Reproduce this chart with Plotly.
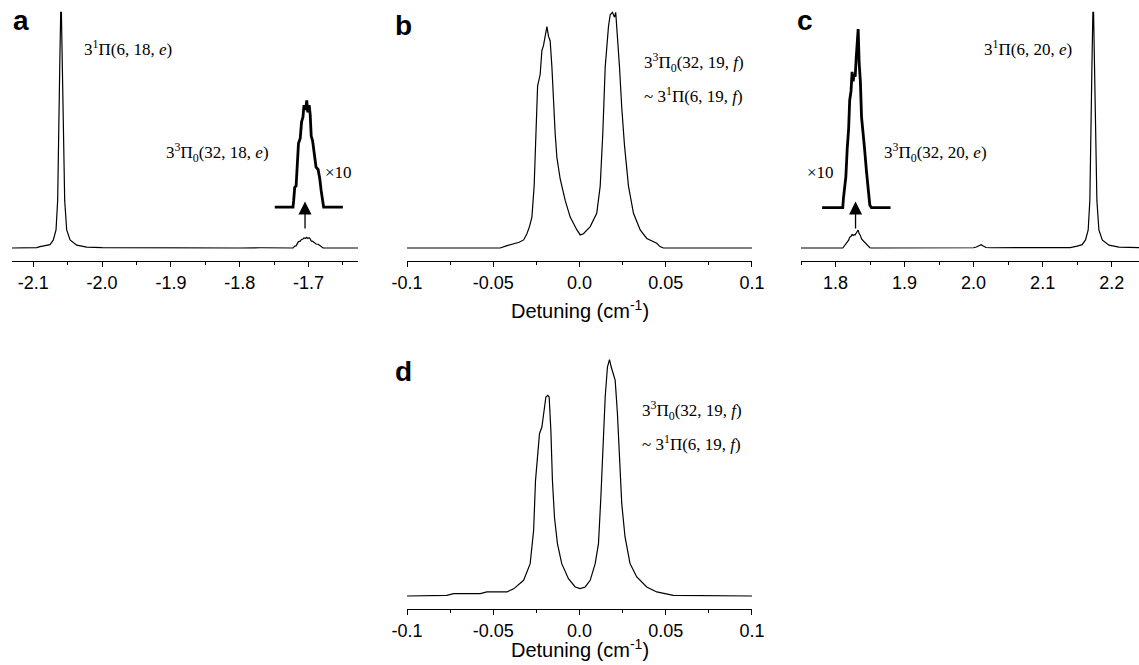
import plotly.graph_objects as go

W, H = 1139, 665

# ---------------- data ----------------
# Panel a: main spectrum (left part: strong 3^1Pi(6,18,e) line)
a_left_x = [-2.131, -2.110, -2.095, -2.0903, -2.0757, -2.0709, -2.0670, -2.0646, -2.0631,
            -2.0616, -2.0602, -2.0592, -2.0578, -2.0563, -2.0544, -2.0515, -2.0466,
            -2.0369, -2.0224, -2.000, -1.950, -1.900, -1.850, -1.800, -1.770]
a_left_y = [0.000, 0.001, 0.002, 0.006, 0.014, 0.034, 0.076, 0.200, 0.410,
            0.760, 0.990, 0.990, 0.760, 0.410, 0.200, 0.076, 0.034,
            0.012, 0.004, 0.002, 0.001, 0.000, 0.001, 0.000, 0.001]
# Panel a: weak 3^3Pi0(32,18,e) line (raw signal)
a_bump_x = [-1.749, -1.7225, -1.7215, -1.720, -1.718, -1.7165, -1.7145, -1.712, -1.710,
            -1.708, -1.7065, -1.704, -1.7025, -1.701, -1.699, -1.6975, -1.696, -1.694,
            -1.692, -1.689, -1.686, -1.6835, -1.6815, -1.6795, -1.678, -1.650]
a_bump_y = [0.0000, 0.0000, 0.0028, 0.0083, 0.0088, 0.0168, 0.0268, 0.0288, 0.0358,
            0.0378, 0.0428, 0.0408, 0.0448, 0.0398, 0.0428, 0.0388, 0.0298, 0.0278,
            0.0228, 0.0168, 0.0158, 0.0118, 0.0068, 0.0013, 0.0000, 0.0000]
a_right_x = [-1.640, -1.628]
a_right_y = [0.000, 0.000]

# Panel b: doublet
b_x = [-0.100, -0.046, -0.042, -0.0382, -0.0350, -0.0324, -0.0305, -0.0290, -0.0276,
       -0.0263, -0.0251, -0.0243, -0.0228, -0.0218, -0.0209, -0.0195, -0.0189, -0.0180,
       -0.0170, -0.0160, -0.0151, -0.0141, -0.0131, -0.0112, -0.0083, -0.0054, -0.0015,
       0.0004, 0.0023, 0.0062, 0.0100, 0.0120, 0.0135, 0.0149, 0.0168, 0.0178, 0.0191,
       0.0203, 0.0210, 0.0222, 0.0232, 0.0245, 0.0261, 0.0284, 0.0313, 0.0352, 0.0390,
       0.0448, 0.0467, 0.0486, 0.1000]
b_y = [0.000, 0.000, 0.010, 0.016, 0.024, 0.034, 0.060, 0.090, 0.130,
       0.260, 0.480, 0.680, 0.730, 0.830, 0.850, 0.900, 0.930, 0.890,
       0.870, 0.760, 0.620, 0.480, 0.380, 0.290, 0.200, 0.130, 0.076,
       0.055, 0.060, 0.090, 0.146, 0.260, 0.480, 0.760, 0.930, 0.980, 0.990,
       0.970, 0.990, 0.870, 0.760, 0.590, 0.430, 0.260, 0.146, 0.076, 0.040,
       0.020, 0.006, 0.000, 0.000]

# Panel c: weak 3^3Pi0(32,20,e) line (raw signal)
c_bump_x = [1.7806, 1.8105, 1.8115, 1.8135, 1.8150, 1.8170, 1.8190, 1.8205, 1.8225, 1.8240,
            1.8255, 1.8270, 1.8285, 1.8300, 1.8313, 1.8328, 1.8342, 1.8360, 1.8377, 1.8395,
            1.8420, 1.8449, 1.8470, 1.8497, 1.8520, 1.8797]
c_bump_y = [0.000, 0.000, 0.004, 0.0085, 0.013, 0.025, 0.033, 0.045, 0.049, 0.057,
            0.053, 0.056, 0.055, 0.063, 0.069, 0.075, 0.061, 0.053, 0.038, 0.033,
            0.025, 0.015, 0.009, 0.001, 0.000, 0.000]
c_left_x = [1.750, 1.765]
c_left_y = [0.000, 0.001]
c_right_x = [1.900, 1.950, 2.000, 2.004, 2.008, 2.011, 2.014, 2.018, 2.025, 2.080, 2.120,
             2.140, 2.150, 2.1573, 2.1621, 2.166, 2.1684, 2.1699, 2.1714, 2.1728, 2.1738,
             2.1752, 2.1767, 2.1786, 2.1815, 2.1864, 2.1961, 2.2106, 2.2396]
c_right_y = [0.000, 0.001, 0.001, 0.004, 0.010, 0.014, 0.008, 0.002, 0.001, 0.000, 0.001,
             0.002, 0.008, 0.014, 0.034, 0.076, 0.200, 0.410, 0.760, 0.990, 0.990,
             0.760, 0.410, 0.200, 0.076, 0.034, 0.012, 0.004, 0.002]

# Panel d: doublet
d_x = [-0.100, -0.0769, -0.0731, -0.0575, -0.0537, -0.0421, -0.0382, -0.0324, -0.0286,
       -0.0266, -0.0255, -0.0243, -0.0232, -0.0218, -0.0205, -0.0195, -0.0184, -0.0176,
       -0.0166, -0.0157, -0.0145, -0.0128, -0.0103, -0.0064, -0.0025, 0.0004, 0.0033,
       0.0062, 0.0091, 0.0110, 0.0124, 0.0135, 0.0149, 0.0162, 0.0174, 0.0184, 0.0197,
       0.0207, 0.0220, 0.0232, 0.0245, 0.0264, 0.0293, 0.0332, 0.0390, 0.0448, 0.0544,
       0.1000]
d_y = [0.000, 0.003, 0.010, 0.010, 0.017, 0.017, 0.030, 0.066, 0.136,
       0.276, 0.486, 0.584, 0.682, 0.710, 0.780, 0.836, 0.843, 0.836,
       0.696, 0.486, 0.330, 0.220, 0.136, 0.073, 0.038, 0.031, 0.038,
       0.066, 0.136, 0.220, 0.416, 0.626, 0.836, 0.962, 0.993, 0.962, 0.934,
       0.906, 0.766, 0.556, 0.388, 0.248, 0.136, 0.080, 0.038, 0.017, 0.003,
       0.000]

INSET_SCALE = 10
A_INSET_OFFSET = 0.172
C_INSET_OFFSET = 0.170

# tick labels
a_ticks = [-2.1, -2.0, -1.9, -1.8, -1.7]
a_ticktext = ["-2.1", "-2.0", "-1.9", "-1.8", "-1.7"]
bd_ticks = [-0.1, -0.05, 0.0, 0.05, 0.1]
bd_ticktext = ["-0.1", "-0.05", "0.0", "0.05", "0.1"]
c_ticks = [1.8, 1.9, 2.0, 2.1, 2.2]
c_ticktext = ["1.8", "1.9", "2.0", "2.1", "2.2"]

# ---------------- figure ----------------
a_x = a_left_x + a_bump_x + a_right_x
a_y = a_left_y + a_bump_y + a_right_y
c_x = c_left_x + c_bump_x + c_right_x
c_y = c_left_y + c_bump_y + c_right_y
a_inset_y = [A_INSET_OFFSET + INSET_SCALE * v for v in a_bump_y]
c_inset_y = [C_INSET_OFFSET + INSET_SCALE * v for v in c_bump_y]

line = dict(color="black", width=1.2)
thick = dict(color="black", width=2.8)

fig = go.Figure()
fig.add_trace(go.Scatter(x=a_x, y=a_y, mode="lines", line=line, xaxis="x", yaxis="y"))
fig.add_trace(go.Scatter(x=a_bump_x, y=a_inset_y, mode="lines", line=thick, xaxis="x", yaxis="y"))
fig.add_trace(go.Scatter(x=b_x, y=b_y, mode="lines", line=line, xaxis="x2", yaxis="y2"))
fig.add_trace(go.Scatter(x=c_x, y=c_y, mode="lines", line=line, xaxis="x3", yaxis="y3"))
fig.add_trace(go.Scatter(x=c_bump_x, y=c_inset_y, mode="lines", line=thick, xaxis="x3", yaxis="y3"))
fig.add_trace(go.Scatter(x=d_x, y=d_y, mode="lines", line=line, xaxis="x4", yaxis="y4"))


def xd(l, r):
    return [l / W, r / W]


def yd(top, bottom):
    return [1 - bottom / H, 1 - top / H]


tickfont = dict(family="Liberation Sans, Arial", size=18, color="black")


def xaxis(dom, rng, tv, tt, anchor, minor_dtick, tick0):
    return dict(domain=dom, range=rng, anchor=anchor, showline=True, linecolor="black",
                linewidth=1, ticks="outside", ticklen=5, tickwidth=1, tickcolor="black",
                tickvals=tv, ticktext=tt, tickfont=tickfont, showgrid=False, zeroline=False,
                automargin=False,
                minor=dict(ticks="outside", ticklen=3, tickwidth=1, tickcolor="black",
                           dtick=minor_dtick, tick0=tick0, showgrid=False),
                fixedrange=True)


def yaxis(dom, anchor):
    return dict(domain=dom, range=[-0.0546, 1.0], visible=False, anchor=anchor, fixedrange=True)


top_dom = yd(10, 261)
bot_dom = yd(358, 609)

fig.update_layout(
    width=W, height=H, margin=dict(l=0, r=0, t=0, b=0, pad=0),
    paper_bgcolor="white", plot_bgcolor="white", showlegend=False,
    xaxis=xaxis(xd(12, 358), [-2.131, -1.628], a_ticks, a_ticktext, "y", 0.05, -2.1),
    yaxis=yaxis(top_dom, "x"),
    xaxis2=xaxis(xd(406.7, 752.3), [-0.1002, 0.1002], bd_ticks, bd_ticktext, "y2", 0.025, -0.1),
    yaxis2=yaxis(top_dom, "x2"),
    xaxis3=xaxis(xd(801, 1139), [1.75, 2.2396], c_ticks, c_ticktext, "y3", 0.05, 1.8),
    yaxis3=yaxis(top_dom, "x3"),
    xaxis4=xaxis(xd(406.7, 752.3), [-0.1002, 0.1002], bd_ticks, bd_ticktext, "y4", 0.025, -0.1),
    yaxis4=yaxis(bot_dom, "x4"),
)

serif = dict(family="Liberation Serif, Times New Roman", size=17, color="black")
letter = dict(family="Liberation Sans, Arial", size=28, color="black")
title_font = dict(family="Liberation Sans, Arial", size=20, color="black")

texts = [
    # (text, x px, y px, font, xanchor)
    ("<b>a</b>", 11, 21, letter, "left"),
    ("<b>b</b>", 393, 25, letter, "left"),
    ("<b>c</b>", 795, 21, letter, "left"),
    ("<b>d</b>", 393, 372, letter, "left"),
    ("3<sup>1</sup>Π(6, 18, <i>e</i>)", 82, 48, serif, "left"),
    ("3<sup>3</sup>Π<sub>0</sub>(32, 18, <i>e</i>)", 164, 153, serif, "left"),
    ("×10", 323, 173, serif, "left"),
    ("3<sup>3</sup>Π<sub>0</sub>(32, 19, <i>f</i>)", 642, 63, serif, "left"),
    ("~ 3<sup>1</sup>Π(6, 19, <i>f</i>)", 642, 95, serif, "left"),
    ("3<sup>1</sup>Π(6, 20, <i>e</i>)", 982, 48, serif, "left"),
    ("3<sup>3</sup>Π<sub>0</sub>(32, 20, <i>e</i>)", 882, 153, serif, "left"),
    ("×10", 805, 173, serif, "left"),
    ("3<sup>3</sup>Π<sub>0</sub>(32, 19, <i>f</i>)", 640, 410, serif, "left"),
    ("~ 3<sup>1</sup>Π(6, 19, <i>f</i>)", 640, 443, serif, "left"),
    ("Detuning (cm<sup>-1</sup>)", 579.5, 309, title_font, "center"),
    ("Detuning (cm<sup>-1</sup>)", 579.5, 648, title_font, "center"),
]
for t, x, y, f, xa in texts:
    fig.add_annotation(text=t, x=x / W, y=1 - y / H, xref="paper", yref="paper",
                       xanchor=xa, yanchor="middle", showarrow=False, font=f)

# arrows pointing from weak line to its x10 magnified copy
for xr, yr, xpos in [("x", "y", -1.705), ("x3", "y3", 1.829)]:
    fig.add_annotation(x=xpos, y=0.195, ax=xpos, ay=0.076, xref=xr, yref=yr,
                       axref=xr, ayref=yr, showarrow=True, arrowhead=2, arrowsize=2.0,
                       arrowwidth=1.3, arrowcolor="black", text="")

fig.write_html("out.html",
               config={"displayModeBar": False, "staticPlot": True},
               post_script="document.body.style.margin='0px';"
                           "document.body.style.overflow='hidden';")
